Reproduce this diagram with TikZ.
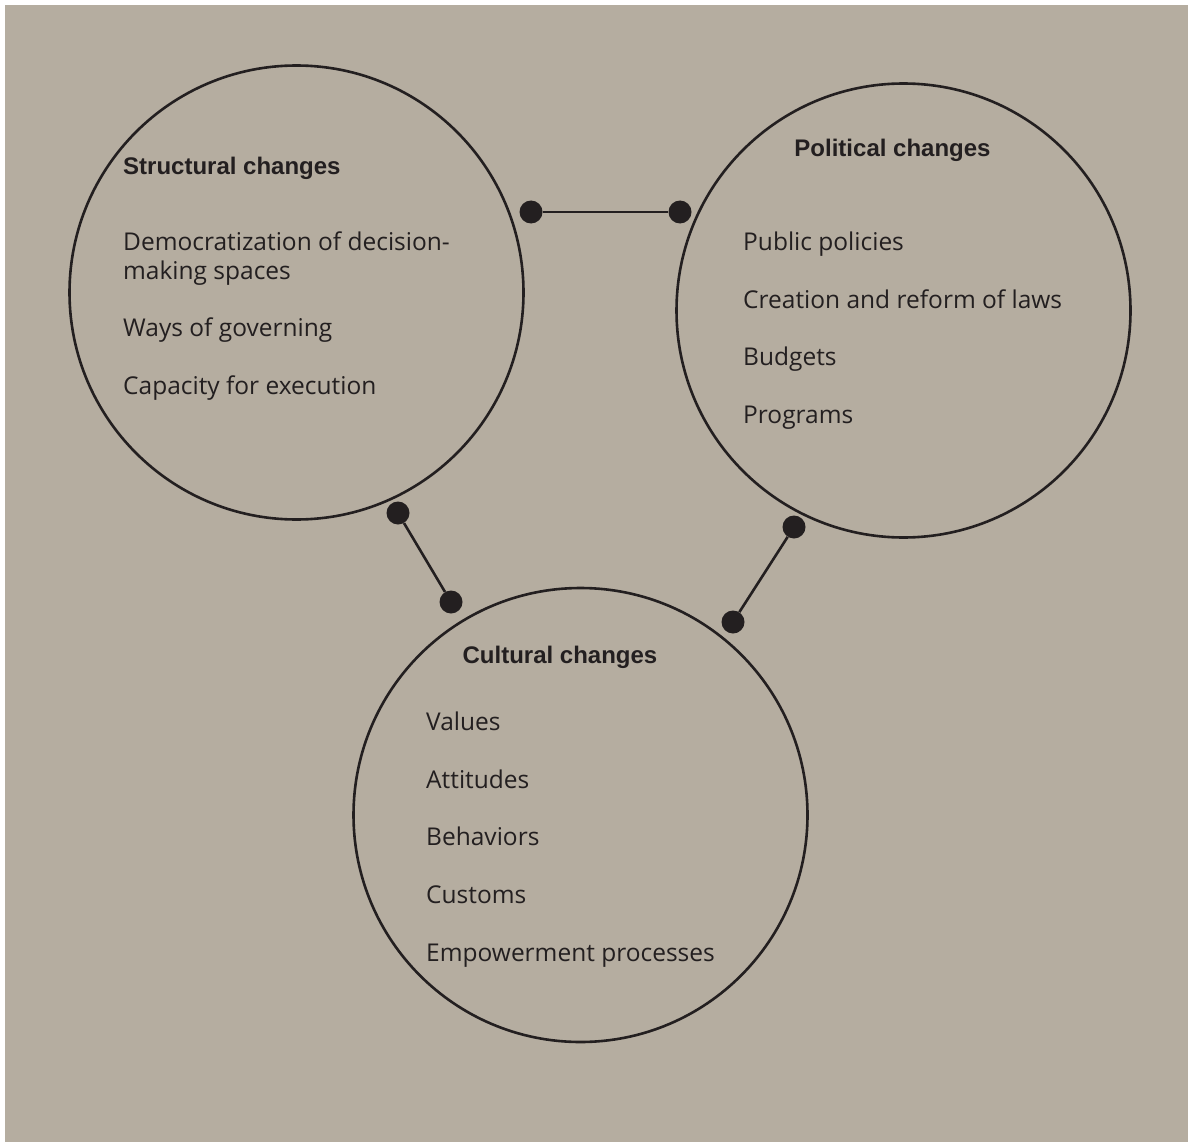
\documentclass[tikz,border=0pt]{standalone}
\usepackage{fontspec}
\newfontfamily\bodyfont{Open Sans}
\newfontfamily\headfont{Liberation Sans}
\definecolor{paper}{HTML}{B5ADA0}
\definecolor{ink}{HTML}{231F20}
\begin{document}
\begin{tikzpicture}[x=1pt,y=-1pt,
  ring/.style={circle,draw=ink,line width=2.6pt,minimum size=454pt,inner sep=0pt},
  knob/.style={circle,fill=ink,minimum size=23pt,inner sep=0pt},
  link/.style={draw=ink,line width=2.6pt},
  heading/.style={text=ink,inner sep=0pt,font=\headfont\bfseries\fontsize{24}{29}\selectfont},
  entry/.style={text=ink,inner sep=0pt,anchor=base west,font=\bodyfont\fontsize{24.5}{29}\selectfont}]
  % canvas
  \useasboundingbox (0,0) rectangle (1188,1142);
  \fill[white] (0,0) rectangle (1188,1142);
  \fill[paper] (5,5) rectangle (1188,1142);

  % three circles
  \node[ring] (structural) at (296.5,292.5) {};
  \node[ring] (political) at (903.5,310.5) {};
  \node[ring] (cultural) at (580.5,815) {};

  % connectors with round ends
  \node[knob] (s1) at (531,212) {};
  \node[knob] (p1) at (680,212) {};
  \node[knob] (s2) at (398,513) {};
  \node[knob] (c1) at (451,602) {};
  \node[knob] (p2) at (794,527) {};
  \node[knob] (c2) at (733,622) {};
  \draw[link] (s1) -- (p1);
  \draw[link] (s2) -- (c1);
  \draw[link] (p2) -- (c2);

  % structural changes
  \node[heading,anchor=base west] (st) at (123,175) {Structural changes};
  \node[entry] (st1a) at (123,250) {Democratization of decision-};
  \node[entry] (st1b) at (123,279) {making spaces};
  \node[entry] (st2) at (123,336) {Ways of governing};
  \node[entry] (st3) at (123,394) {Capacity for execution};

  % political changes
  \node[heading,anchor=base] (pt) at (892.5,157) {Political changes};
  \node[entry] (pt1) at (743,250) {Public policies};
  \node[entry] (pt2) at (743,308) {Creation and reform of laws};
  \node[entry] (pt3) at (743,365) {Budgets};
  \node[entry] (pt4) at (743,423) {Programs};

  % cultural changes
  \node[heading,anchor=base] (ct) at (560,663) {Cultural changes};
  \node[entry] (ct1) at (426,730) {Values};
  \node[entry] (ct2) at (426,788) {Attitudes};
  \node[entry] (ct3) at (426,845) {Behaviors};
  \node[entry] (ct4) at (426,903) {Customs};
  \node[entry] (ct5) at (426,961) {Empowerment processes};
\end{tikzpicture}
\end{document}
